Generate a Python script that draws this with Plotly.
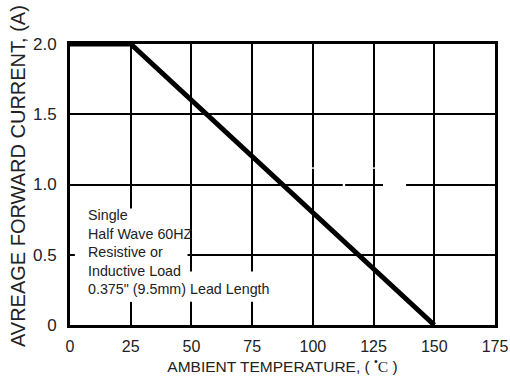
import plotly.graph_objects as go

temps = [0, 25, 150]
current = [2.0, 2.0, 0.0]
x_ticks = [0, 25, 50, 75, 100, 125, 150, 175]
y_ticks = [0, 0.5, 1.0, 1.5, 2.0]
y_tick_text = ["0", "0.5", "1.0", "1.5", "2.0"]
note_lines = ["Single", "Half Wave 60HZ", "Resistive or", "Inductive Load",
              "0.375\" (9.5mm) Lead Length"]
x_title = "AMBIENT TEMPERATURE, ( <sup>•</sup><span style='font-family:Liberation Serif'>C</span> )"
y_title = "AVREAGE FORWARD CURRENT, (A)"

font_family = "Liberation Sans, Arial, sans-serif"

fig = go.Figure()
fig.add_trace(go.Scatter(x=temps, y=current, mode="lines",
                         line=dict(color="black", width=5),
                         cliponaxis=False, showlegend=False, hoverinfo="skip"))

white = dict(type="rect", xref="x", yref="y", fillcolor="white",
             line=dict(width=0), layer="above")
shapes = [
    dict(white, x0=2.0, x1=48.4, y0=0.165, y1=0.83),
    dict(white, x0=2.0, x1=82.5, y0=0.165, y1=0.38),
    dict(white, x0=128.9, x1=138.4, y0=0.985, y1=1.015),
    dict(white, x0=112.3, x1=113.3, y0=0.985, y1=1.015),
    dict(white, x0=99.2, x1=100.6, y0=1.112, y1=1.122),
    dict(white, x0=124.4, x1=125.6, y0=1.112, y1=1.122),
]

fig.update_layout(
    width=510, height=380,
    margin=dict(l=70, r=15, t=44, b=55),
    paper_bgcolor="white", plot_bgcolor="white",
    font=dict(family=font_family, size=16, color="#222"),
    shapes=shapes,
    xaxis=dict(range=[0, 175], tickvals=x_ticks, ticktext=[str(v) for v in x_ticks],
               automargin=False,
               showgrid=True, gridcolor="black", gridwidth=2,
               showline=True, linecolor="black", linewidth=3, mirror=True,
               zeroline=False, ticks="", ticklabelstandoff=5,
               ticklabeloverflow="allow",
               tickfont=dict(size=16),
               title=dict(text=x_title, standoff=0, font=dict(size=15.5))),
    yaxis=dict(range=[0, 2], tickvals=y_ticks, ticktext=y_tick_text,
               automargin=False,
               showgrid=True, gridcolor="black", gridwidth=2,
               showline=True, linecolor="black", linewidth=3, mirror=True,
               zeroline=False, ticks="", ticklabelstandoff=7,
               tickfont=dict(size=17)),
    annotations=[
        dict(x=6.6, y=0.52, xref="x", yref="y", xanchor="left", yanchor="middle",
             align="left", showarrow=False, text="<br>".join(note_lines),
             font=dict(size=14.3, color="#222")),
        dict(x=-0.1224, y=0.530, xref="paper", yref="paper", xanchor="center",
             yanchor="middle", textangle=-90, showarrow=False, text=y_title,
             font=dict(size=20, color="#222")),
    ],
)

fig.write_html("out.html", config={"displayModeBar": False},
               post_script="document.body.style.margin='0';document.body.style.overflow='hidden';")
